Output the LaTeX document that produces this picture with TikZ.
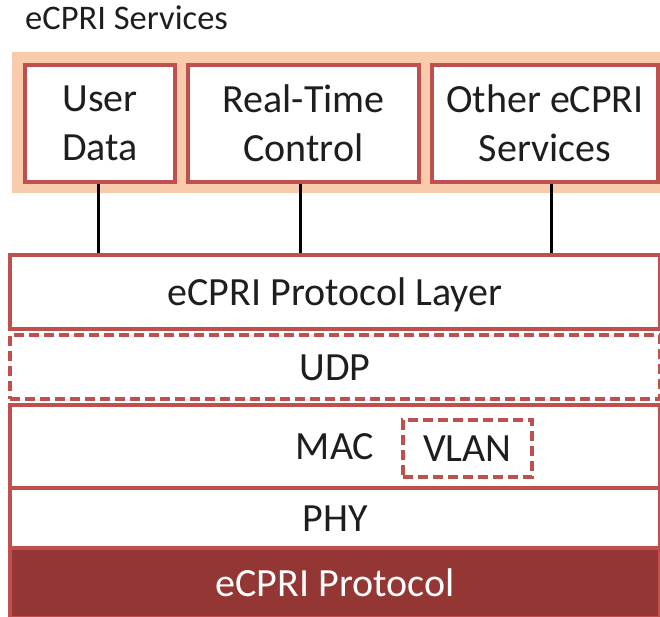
\documentclass[tikz,border=0pt]{standalone}
\usepackage{fontspec}
\setmainfont{Carlito}
\definecolor{bred}{HTML}{C0504D}
\definecolor{peach}{HTML}{F8CBAD}
\definecolor{dred}{HTML}{943634}
\definecolor{txt}{HTML}{1E1E1E}
\begin{document}
\begin{tikzpicture}[x=1pt,y=-1pt,
  svc/.style={draw=bred, line width=4pt, fill=white, text=txt, align=center, inner sep=0pt,
    font=\fontsize{40}{49}\selectfont},
  lay/.style={draw=bred, line width=4pt, fill=white, text=txt, inner sep=0pt,
    text height=26pt, text depth=0pt,
    minimum width=650pt, font=\fontsize{40}{49}\selectfont},
  dashbox/.style={dash pattern=on 10pt off 5pt},
  conn/.style={draw=black, line width=3pt}]
\useasboundingbox (0,0) rectangle (660,617);
\node[anchor=base west, inner sep=0pt, text=txt, font=\fontsize{34.5}{40}\selectfont] (title) at (25,30) {eCPRI Services};
\node[fill=peach, inner sep=0pt, minimum width=650pt, minimum height=141pt] (band) at (337,122.5) {};
\node[svc, minimum width=150pt, minimum height=117pt] (ud) at (100,123.5) {User\\Data};
\node[svc, minimum width=231pt, minimum height=117pt] (rt) at (303.5,123.5) {Real-Time\\Control};
\node[svc, minimum width=226pt, minimum height=117pt] (oth) at (545,123.5) {Other eCPRI\\Services};
\node[lay, minimum height=73pt] (layer) at (335,292) {eCPRI Protocol Layer};
\node[lay, dashbox, minimum height=64pt] (udp) at (335,367) {UDP};
\node[lay, minimum height=83pt] (mac) at (335,446.5) {MAC};
\node[lay, dashbox, minimum width=129pt, minimum height=57pt] (vlan) at (467.5,448.5) {VLAN};
\node[lay, minimum height=60pt] (phy) at (335,518) {PHY};
\node[lay, fill=dred, text=white, minimum height=70pt] (proto) at (335,583) {eCPRI Protocol};
\draw[conn] ([xshift=-2pt]ud.south) -- ([xshift=-2pt]ud.south |- layer.north);
\draw[conn] ([xshift=-3pt]rt.south) -- ([xshift=-3pt]rt.south |- layer.north);
\draw[conn] ([xshift=6pt]oth.south) -- ([xshift=6pt]oth.south |- layer.north);
\end{tikzpicture}
\end{document}
